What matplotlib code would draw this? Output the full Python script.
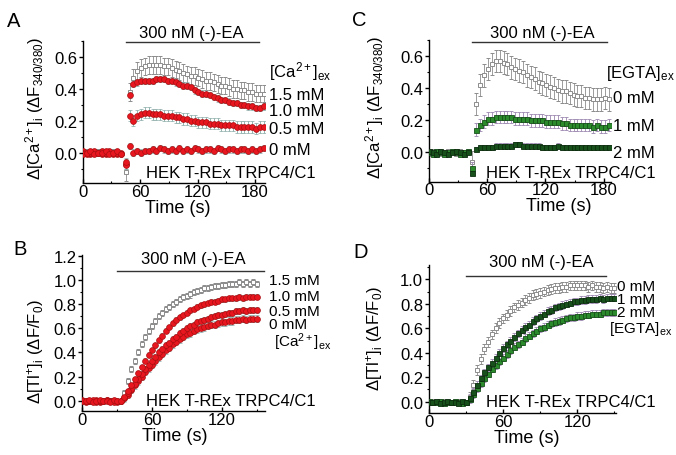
import numpy as np
import matplotlib
matplotlib.use('Agg')
import matplotlib.pyplot as plt
import matplotlib.transforms as mtransforms
from matplotlib.ticker import MultipleLocator, FormatStrFormatter

plt.rcParams['font.family'] = ['Liberation Sans', 'DejaVu Sans']
plt.rcParams['mathtext.fontset'] = 'custom'
plt.rcParams['mathtext.rm'] = 'Liberation Sans'
plt.rcParams['mathtext.it'] = 'Liberation Sans:italic'

W, H = 676, 456

# ---------------- data ----------------
# panel A: [Ca2+]i, fura-2, different [Ca2+]ex
tA = [0, 4, 8, 12, 16, 20, 24, 28, 32, 36, 40,
      45, 49, 53, 57, 61, 65, 69, 73, 77, 81, 85, 89, 93, 97, 101, 105, 109, 113,
      117, 121, 125, 129, 133, 137, 141, 145, 149, 153, 157, 161, 165, 169, 173,
      177, 181, 185, 189]
a_15 = [0.00, 0.01, -0.01, 0.00, 0.01, 0.00, -0.01, 0.00, 0.01, 0.00, -0.01,
        -0.12, 0.38, 0.47, 0.51, 0.53, 0.54, 0.55, 0.55, 0.55, 0.55, 0.54, 0.54, 0.53,
        0.52, 0.51, 0.50, 0.49, 0.48, 0.48, 0.47, 0.46, 0.45, 0.45, 0.44, 0.43, 0.42,
        0.42, 0.41, 0.40, 0.40, 0.39, 0.39, 0.38, 0.38, 0.37, 0.37, 0.37]
a_10 = [0.00, -0.01, 0.00, 0.01, 0.00, -0.01, 0.00, 0.01, -0.01, 0.00, -0.01,
        -0.08, 0.36, 0.43, 0.44, 0.45, 0.45, 0.45, 0.45, 0.46, 0.46, 0.46, 0.45, 0.45,
        0.44, 0.43, 0.42, 0.42, 0.41, 0.39, 0.38, 0.37, 0.37, 0.36, 0.35, 0.34, 0.33,
        0.33, 0.32, 0.31, 0.31, 0.30, 0.30, 0.29, 0.29, 0.28, 0.28, 0.29]
a_05 = [0.01, 0.00, -0.01, 0.00, 0.00, 0.01, -0.01, 0.00, 0.00, -0.01, 0.00,
        -0.07, 0.23, 0.20, 0.23, 0.24, 0.25, 0.25, 0.24, 0.24, 0.24, 0.23, 0.23, 0.23,
        0.22, 0.22, 0.21, 0.21, 0.20, 0.20, 0.19, 0.19, 0.19, 0.18, 0.18, 0.18, 0.17,
        0.17, 0.17, 0.17, 0.16, 0.16, 0.16, 0.16, 0.16, 0.15, 0.16, 0.16]
a_00 = [-0.01, 0.00, 0.01, -0.01, 0.00, 0.00, 0.01, -0.01, 0.00, 0.01, -0.01,
        -0.06, 0.04, 0.00, 0.01, 0.00, 0.01, 0.01, 0.02, 0.01, 0.03, 0.02, 0.01, 0.02,
        0.01, 0.03, 0.01, 0.02, 0.01, 0.03, 0.02, 0.01, 0.02, 0.02, 0.01, 0.03, 0.02,
        0.01, 0.02, 0.02, 0.01, 0.02, 0.02, 0.01, 0.02, 0.01, 0.02, 0.03]
sem_a = {'1.5': (0.01, 0.055), '1.0': (0.01, 0.02), '0.5': (0.01, 0.035), '0': (0.01, 0.02)}

# panel C: [Ca2+]i, different [EGTA]ex
tC = [0, 4, 8, 12, 16, 20, 24, 28, 32, 36, 40,
      45, 49, 53, 57, 61, 65, 69, 73, 77, 81, 85, 89, 93, 97, 101, 105, 109, 113,
      117, 121, 125, 129, 133, 137, 141, 145, 149, 153, 157, 161, 165, 169, 173,
      177, 181, 185]
c_0 = [-0.01, 0.01, 0.00, -0.01, 0.00, 0.01, 0.00, -0.01, 0.01, 0.00, 0.00,
       -0.06, 0.30, 0.42, 0.48, 0.52, 0.55, 0.57, 0.57, 0.56, 0.55, 0.53, 0.52, 0.51,
       0.50, 0.48, 0.47, 0.46, 0.44, 0.43, 0.42, 0.41, 0.40, 0.39, 0.38, 0.38, 0.37,
       0.36, 0.35, 0.35, 0.34, 0.34, 0.33, 0.33, 0.33, 0.34, 0.33]
c_1 = [0.00, -0.01, 0.01, 0.00, -0.01, 0.00, 0.01, 0.00, -0.01, 0.00, 0.01,
       -0.10, 0.14, 0.17, 0.19, 0.21, 0.21, 0.22, 0.22, 0.22, 0.22, 0.22, 0.21, 0.21,
       0.21, 0.21, 0.20, 0.20, 0.20, 0.20, 0.19, 0.19, 0.19, 0.19, 0.18, 0.18, 0.17,
       0.17, 0.17, 0.17, 0.17, 0.17, 0.16, 0.17, 0.16, 0.16, 0.17]
c_2 = [0.01, 0.00, -0.01, 0.01, 0.00, -0.01, 0.00, 0.01, 0.00, -0.01, 0.00,
       -0.13, 0.02, 0.03, 0.03, 0.03, 0.03, 0.04, 0.04, 0.04, 0.04, 0.04, 0.05, 0.05,
       0.04, 0.04, 0.04, 0.04, 0.04, 0.03, 0.03, 0.03, 0.03, 0.04, 0.03, 0.03, 0.03,
       0.03, 0.03, 0.03, 0.03, 0.03, 0.03, 0.03, 0.03, 0.03, 0.03]
sem_c = {'0': (0.01, 0.07), '1': (0.01, 0.04), '2': (0.01, 0.015)}

# panel B: Tl+ influx, different [Ca2+]ex
tB = [0, 3, 6, 9, 12, 15, 18, 21, 24, 27, 30, 33,
      36, 39, 42, 45, 48, 51, 54, 57, 60, 63, 66, 69, 72, 75, 78, 81, 84, 87, 90,
      93, 96, 99, 102, 105, 108, 111, 114, 117, 120, 123, 126, 129, 132, 135, 138,
      141, 144, 147, 150]
b_15 = [0.00, 0.01, -0.01, 0.00, 0.01, 0.00, -0.01, 0.00, 0.01, 0.00, -0.01, 0.00,
        0.06, 0.16, 0.26, 0.33, 0.40, 0.47, 0.53, 0.58, 0.62, 0.66, 0.70, 0.73, 0.76,
        0.78, 0.80, 0.82, 0.84, 0.86, 0.87, 0.88, 0.90, 0.91, 0.92, 0.93, 0.93, 0.94,
        0.95, 0.95, 0.96, 0.96, 0.97, 0.97, 0.97, 0.98, 0.97, 0.98, 0.97, 0.98, 0.97]
b_10 = [0.00, 0.00, 0.01, -0.01, 0.00, 0.01, 0.00, 0.00, -0.01, 0.01, 0.00, 0.00,
        0.03, 0.08, 0.13, 0.18, 0.23, 0.28, 0.33, 0.38, 0.42, 0.46, 0.50, 0.54, 0.58,
        0.61, 0.64, 0.67, 0.69, 0.71, 0.73, 0.75, 0.76, 0.78, 0.79, 0.80, 0.81, 0.82,
        0.82, 0.83, 0.84, 0.84, 0.85, 0.85, 0.85, 0.86, 0.85, 0.86, 0.86, 0.86, 0.86]
b_05 = [0.01, 0.00, 0.00, 0.01, -0.01, 0.00, 0.00, 0.01, 0.00, -0.01, 0.00, 0.00,
        0.02, 0.06, 0.10, 0.14, 0.18, 0.22, 0.26, 0.30, 0.33, 0.36, 0.40, 0.43, 0.46,
        0.48, 0.51, 0.53, 0.56, 0.58, 0.60, 0.62, 0.63, 0.65, 0.66, 0.67, 0.68, 0.69,
        0.70, 0.71, 0.71, 0.72, 0.73, 0.73, 0.74, 0.74, 0.75, 0.74, 0.75, 0.75, 0.75]
b_00 = [0.00, -0.01, 0.00, 0.00, 0.01, -0.01, 0.00, 0.01, 0.00, 0.00, -0.01, 0.00,
        0.02, 0.05, 0.09, 0.13, 0.16, 0.20, 0.24, 0.27, 0.30, 0.33, 0.36, 0.39, 0.42,
        0.44, 0.47, 0.49, 0.51, 0.53, 0.55, 0.56, 0.58, 0.59, 0.60, 0.61, 0.62, 0.63,
        0.63, 0.64, 0.65, 0.65, 0.66, 0.66, 0.67, 0.67, 0.68, 0.67, 0.68, 0.68, 0.68]
sem_b = {'1.5': (0.01, 0.025), '1.0': (0.01, 0.02), '0.5': (0.01, 0.025), '0': (0.01, 0.03)}

# panel D: Tl+ influx, different [EGTA]ex
tD = [0, 3, 6, 9, 12, 15, 18, 21, 24, 27, 30,
      33, 36, 39, 42, 45, 48, 51, 54, 57, 60, 63, 66, 69, 72, 75, 78, 81, 84, 87,
      90, 93, 96, 99, 102, 105, 108, 111, 114, 117, 120, 123, 126, 129, 132, 135,
      138, 141, 144, 147, 150]
d_0 = [0.00, 0.01, -0.01, 0.00, 0.01, 0.00, -0.01, 0.00, 0.01, 0.00, 0.00,
       0.04, 0.14, 0.26, 0.35, 0.43, 0.49, 0.55, 0.60, 0.64, 0.68, 0.71, 0.74, 0.77,
       0.79, 0.81, 0.83, 0.85, 0.87, 0.88, 0.89, 0.90, 0.91, 0.92, 0.93, 0.93, 0.94,
       0.94, 0.95, 0.95, 0.95, 0.95, 0.95, 0.94, 0.95, 0.94, 0.94, 0.93, 0.94, 0.93, 0.93]
d_1 = [0.00, 0.00, 0.01, -0.01, 0.00, 0.01, 0.00, 0.00, -0.01, 0.01, 0.00,
       0.03, 0.08, 0.14, 0.19, 0.24, 0.28, 0.32, 0.36, 0.40, 0.44, 0.47, 0.50, 0.53,
       0.56, 0.59, 0.61, 0.63, 0.66, 0.68, 0.70, 0.72, 0.74, 0.75, 0.77, 0.78, 0.79,
       0.80, 0.81, 0.82, 0.82, 0.83, 0.83, 0.84, 0.84, 0.84, 0.85, 0.84, 0.85, 0.85, 0.85]
d_2 = [0.01, 0.00, 0.00, 0.01, -0.01, 0.00, 0.00, 0.01, 0.00, -0.01, 0.00,
       0.02, 0.06, 0.11, 0.15, 0.19, 0.23, 0.27, 0.30, 0.33, 0.36, 0.39, 0.42, 0.45,
       0.47, 0.49, 0.52, 0.54, 0.56, 0.58, 0.60, 0.61, 0.63, 0.64, 0.65, 0.66, 0.67,
       0.68, 0.69, 0.69, 0.70, 0.70, 0.71, 0.71, 0.72, 0.72, 0.72, 0.73, 0.73, 0.73, 0.73]
sem_d = {'0': (0.01, 0.04), '1': (0.01, 0.03), '2': (0.01, 0.03)}

# stimulus bars (start, end) in s
stim = {'A': (45, 184), 'C': (45, 183), 'B': (30, 156), 'D': (30, 143)}

# ---------------- styles ----------------
RED = '#e8161e'
RED_E = '#a80f12'
GRAY = '#8c8c8c'
TEAL = '#86a8a4'
GREEN = '#2b8a2b'
DGREEN = '#17501a'
PURP = '#9b86b0'


def px(x, y):
    return x / W, 1 - y / H


def make_ax(fig, left, top, right, bottom):
    ax = fig.add_axes([left / W, 1 - bottom / H, (right - left) / W, (bottom - top) / H])
    ax.patch.set_alpha(0)
    for s in ['top', 'right']:
        ax.spines[s].set_visible(False)
    for s in ['left', 'bottom']:
        ax.spines[s].set_linewidth(1.0)
    ax.tick_params(axis='y', which='major', direction='out', length=3, width=1.0, labelsize=12, pad=1)
    ax.tick_params(axis='y', which='minor', direction='out', length=1.8, width=0.8)
    ax.tick_params(axis='x', which='major', direction='in', length=3, width=1.0, labelsize=12, pad=0.5)
    ax.tick_params(axis='x', which='minor', direction='in', length=1.8, width=0.8)
    return ax


def sem_list(t, t0, pair):
    return [pair[0] if ti < t0 else pair[1] for ti in t]


def trace(ax, t, y, err, style):
    if style == 'open':
        ax.errorbar(t, y, yerr=err, fmt='s', ms=3.4, mfc='white', mec=GRAY, mew=0.7,
                    ecolor=GRAY, elinewidth=0.6, capsize=1.5, capthick=0.6, zorder=2)
    elif style == 'red':
        ax.errorbar(t, y, yerr=err, fmt='o', ms=4.2, mfc=RED, mec=RED_E, mew=0.5,
                    ecolor=TEAL, elinewidth=0.6, capsize=1.5, capthick=0.6, zorder=3)
    elif style == 'green':
        ax.errorbar(t, y, yerr=err, fmt='s', ms=3.6, mfc=GREEN, mec=DGREEN, mew=0.6,
                    ecolor=PURP, elinewidth=0.6, capsize=1.5, capthick=0.6, zorder=3)
    elif style == 'dgreen':
        ax.errorbar(t, y, yerr=err, fmt='s', ms=3.6, mfc=DGREEN, mec='#0c2e0e', mew=0.6,
                    ecolor=PURP, elinewidth=0.6, capsize=1.5, capthick=0.6, zorder=3)


def stim_bar(ax, span, yfrac):
    tr = mtransforms.blended_transform_factory(ax.transData, ax.transAxes)
    ax.plot(span, [yfrac, yfrac], color='#333333', lw=1.0, transform=tr, clip_on=False)


def style_axis(ax, xmax, ylim, ymajor):
    ax.set_xlim(0, xmax)
    ax.set_ylim(*ylim)
    ax.xaxis.set_major_locator(MultipleLocator(60))
    ax.xaxis.set_minor_locator(MultipleLocator(30))
    ax.yaxis.set_major_locator(MultipleLocator(ymajor))
    ax.yaxis.set_minor_locator(MultipleLocator(ymajor / 2))
    ax.yaxis.set_major_formatter(FormatStrFormatter('%.1f'))


fig = plt.figure(figsize=(W / 100, H / 100), dpi=100)
fs_txt = 12
fs_stack = 11  # tightly stacked concentration labels in B and D

# ---------- A ----------
axA = make_ax(fig, 82.7, 41.8, 264.5, 184)
trace(axA, tA, a_15, sem_list(tA, 44, sem_a['1.5']), 'open')
trace(axA, tA, a_05, sem_list(tA, 44, sem_a['0.5']), 'red')
trace(axA, tA, a_10, sem_list(tA, 44, sem_a['1.0']), 'red')
trace(axA, tA, a_00, sem_list(tA, 44, sem_a['0']), 'red')
style_axis(axA, 190, (-0.19, 0.70), 0.2)
stim_bar(axA, stim['A'], (184 - 43.3) / 142.2)

# ---------- C ----------
axC = make_ax(fig, 428.7, 41.3, 610.5, 182.7)
trace(axC, tC, c_0, sem_list(tC, 44, sem_c['0']), 'open')
trace(axC, tC, c_1, sem_list(tC, 44, sem_c['1']), 'green')
trace(axC, tC, c_2, sem_list(tC, 44, sem_c['2']), 'dgreen')
style_axis(axC, 187, (-0.185, 0.70), 0.2)
stim_bar(axC, stim['C'], (182.7 - 43.3) / 141.4)

# ---------- B ----------
axB = make_ax(fig, 82.3, 256, 264.7, 412)
trace(axB, tB, b_15, sem_list(tB, 34, sem_b['1.5']), 'open')
trace(axB, tB, b_00, sem_list(tB, 34, sem_b['0']), 'red')
trace(axB, tB, b_05, sem_list(tB, 34, sem_b['0.5']), 'red')
trace(axB, tB, b_10, sem_list(tB, 34, sem_b['1.0']), 'red')
style_axis(axB, 157, (-0.085, 1.207), 0.2)
stim_bar(axB, stim['B'], (412 - 271.7) / 156)

# ---------- D ----------
axD = make_ax(fig, 428.7, 266, 616.3, 414)
trace(axD, tD, d_0, sem_list(tD, 31, sem_d['0']), 'open')
trace(axD, tD, d_2, sem_list(tD, 31, sem_d['2']), 'green')
trace(axD, tD, d_1, sem_list(tD, 31, sem_d['1']), 'dgreen')
style_axis(axD, 151.5, (-0.092, 1.117), 0.2)
stim_bar(axD, stim['D'], (414 - 276.7) / 148)

# ---------- texts ----------
def ftext(x, y, s, **kw):
    kw.setdefault('fontsize', fs_txt)
    fig.text(*px(x, y), s, **kw)

for lab, (x, y) in {'A': (14, 21.7), 'C': (359.7, 20), 'B': (20, 249.3), 'D': (360.5, 252.7)}.items():
    ftext(x, y, lab, fontsize=14.5, ha='center', va='center')

for (x, y) in [(191.7, 33.3), (542, 33.3), (193.3, 259.3), (541.3, 262)]:
    ftext(x, y, '300 nM (-)-EA', ha='center', va='center')

for (x, y) in [(145.7, 173.3), (486.3, 173.3), (145.7, 401.7), (486.3, 402.7)]:
    ftext(x, y, 'HEK T-REx TRPC4/C1', ha='left', va='center')

ylab_ca = r'Δ[Ca$^{2+}$]$_\mathrm{i}$ (ΔF$_{340/380}$)'
ylab_tl = r'Δ[Tl$^{+}$]$_\mathrm{i}$ (ΔF/F$_0$)'
ftext(35, 108, ylab_ca, rotation=90, ha='center', va='center')
ftext(374.7, 107, ylab_ca, rotation=90, ha='center', va='center')
ftext(35, 352, ylab_tl, rotation=90, ha='center', va='center')
ftext(374.7, 339, ylab_tl, rotation=90, ha='center', va='center')

for (x, y) in [(177.7, 208.5), (558.7, 207), (175, 437), (527, 439)]:
    ftext(x, y, 'Time (s)', ha='center', va='center', fontsize=13)

# concentration labels
ca_lab = r'[Ca$^{2+}$]$_\mathrm{ex}$'
egta_lab = r'[EGTA]$_\mathrm{ex}$'
for s, y in [(ca_lab, 71.7), ('1.5 mM', 95), ('1.0 mM', 111), ('0.5 mM', 130), ('0 mM', 151)]:
    ftext(269, y, s, ha='left', va='center')
for s, x, y in [(egta_lab, 606.3, 74), ('0 mM', 613, 99), ('1 mM', 613, 126.7), ('2 mM', 613, 153.3)]:
    ftext(x, y, s, ha='left', va='center')
for s, x, y in [('1.5 mM', 269.3, 281), ('1.0 mM', 269.3, 296.7), ('0.5 mM', 269.3, 312),
                ('0 mM', 269.3, 325), (ca_lab, 274, 342)]:
    ftext(x, y, s, ha='left', va='center', fontsize=fs_stack)
for s, x, y in [('0 mM', 617.3, 287), ('1 mM', 617.3, 300), ('2 mM', 617.3, 313.3), (egta_lab, 608.7, 328.5)]:
    ftext(x, y, s, ha='left', va='center', fontsize=fs_stack)

fig.savefig('out.png', dpi=100)
